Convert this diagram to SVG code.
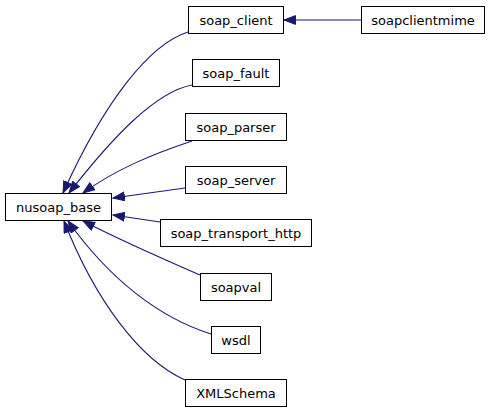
<svg xmlns="http://www.w3.org/2000/svg" width="491" height="413" viewBox="0 0 491 413">
<style>
.node rect{fill:#fff;stroke:#000;stroke-width:1}
.node text{font-family:"DejaVu Sans","Liberation Sans",sans-serif;font-size:13px;text-anchor:middle;fill:#000}
.edge{fill:none;stroke:#191970;stroke-width:1.1;marker-end:url(#arr)}
</style>
<defs>
<marker id="arr" markerUnits="userSpaceOnUse" markerWidth="14" markerHeight="11" refX="12" refY="5" orient="auto">
<path d="M0.5,0.6 L12,5 L0.5,9.4 z" fill="#191970" stroke="#191970" stroke-width="1"/>
</marker>
</defs>
<rect width="491" height="413" fill="#fff"/>
<g id="connectors">
<path class="edge" d="M361,20 L284,20"/>
<path class="edge" d="M188,32 C150,44 105,100 63,193"/>
<path class="edge" d="M192,85 C155,92 112,138 69,193"/>
<path class="edge" d="M192,141 C150,155 115,170 83,193"/>
<path class="edge" d="M185,188 L113,198"/>
<path class="edge" d="M160,222 L113,215"/>
<path class="edge" d="M200,275 C170,262 120,240 83,221"/>
<path class="edge" d="M211,334 C160,318 110,280 68,221"/>
<path class="edge" d="M185,380 C140,360 95,300 64,221"/>
</g>
<g id="nusoap_base" class="node"><rect x="5.5" y="193.5" width="106" height="27"/><text x="58.5" y="211.5">nusoap_base</text></g>
<g id="soap_client" class="node"><rect x="188.5" y="6.5" width="95" height="27"/><text x="236" y="24.5">soap_client</text></g>
<g id="soapclientmime" class="node"><rect x="361.5" y="6.5" width="123" height="27"/><text x="423" y="24.5">soapclientmime</text></g>
<g id="soap_fault" class="node"><rect x="192.5" y="59.5" width="87" height="27"/><text x="236" y="77.5">soap_fault</text></g>
<g id="soap_parser" class="node"><rect x="185.5" y="113.5" width="101" height="27"/><text x="236" y="131.5">soap_parser</text></g>
<g id="soap_server" class="node"><rect x="185.5" y="166.5" width="101" height="27"/><text x="236" y="184.5">soap_server</text></g>
<g id="soap_transport_http" class="node"><rect x="160.5" y="219.5" width="151" height="27"/><text x="236" y="237.5">soap_transport_http</text></g>
<g id="soapval" class="node"><rect x="200.5" y="273.5" width="71" height="27"/><text x="236" y="291.5">soapval</text></g>
<g id="wsdl" class="node"><rect x="211.5" y="326.5" width="49" height="27"/><text x="236" y="344.5">wsdl</text></g>
<g id="XMLSchema" class="node"><rect x="185.5" y="379.5" width="101" height="27"/><text x="236" y="397.5">XMLSchema</text></g>
</svg>
